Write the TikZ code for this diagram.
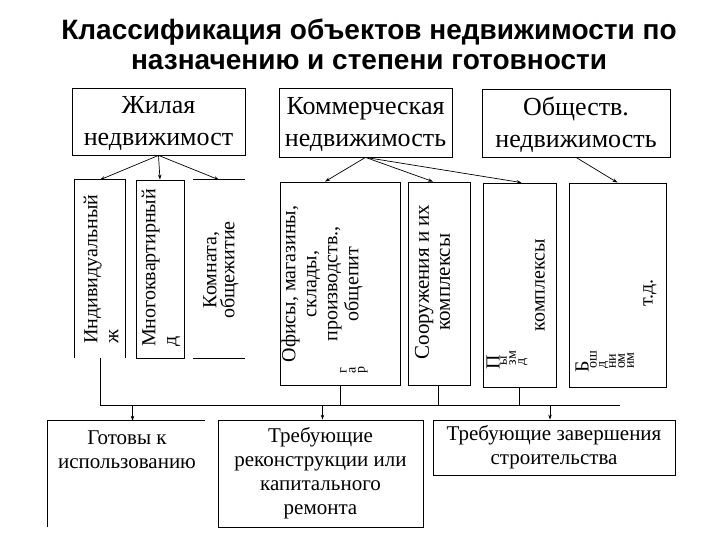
\documentclass[tikz,border=0pt]{standalone}
\usepackage{fontspec}
\setmainfont{Liberation Serif}
\newfontfamily\titlefont{Liberation Sans}
\usetikzlibrary{arrows.meta,calc}
\begin{document}
\begin{tikzpicture}[x=1pt,y=-1pt,
  box/.style={draw, line width=0.8pt, inner sep=0pt, align=center},
  openbox/.style={inner sep=0pt},
  arr/.style={-{Stealth[length=5pt,width=3.5pt]}, line width=0.7pt},
  ln/.style={line width=0.8pt},
  topfont/.style={font=\fontsize{26}{32}\selectfont},
  vtext/.style={font=\fontsize{20}{21}\selectfont, rotate=90, inner sep=0pt},
  small/.style={font=\fontsize{14}{9}\selectfont, rotate=90, inner sep=0pt},
  botfont/.style={font=\fontsize{21}{24}\selectfont}]
\useasboundingbox (0,0) rectangle (720,540);
\node[font=\titlefont\bfseries\fontsize{28}{30}\selectfont, align=center] (title) at (369,44) {Классификация объектов недвижимости по\\назначению и степени готовности};

% top boxes
\node[box, topfont, minimum width=173, minimum height=67] (zhil) at (158.5,121.5) {};
\node[topfont, align=center, inner sep=0pt] (zhilt) at (158.5,124) {Жилая\\недвижимост};
\node[box, topfont, minimum width=173, minimum height=69] (komm) at (365.5,122.5) {};
\node[topfont, align=center, inner sep=0pt] (kommt) at (365.5,125) {Коммерческая\\недвижимость};
\node[box, topfont, minimum width=188, minimum height=68] (obsh) at (576,123) {};
\node[topfont, align=center, inner sep=0pt] (obsht) at (576,125) {Обществ.\\недвижимость};

% vertical boxes
\node[openbox, minimum width=50, minimum height=178] (v1) at (100,269) {};
\node[box, minimum width=48, minimum height=178] (v2) at (160,269) {};
\node[openbox, minimum width=52, minimum height=178] (v3) at (219,269) {};
\node[box, minimum width=120, minimum height=203] (v4) at (340,283.5) {};
\node[box, minimum width=62, minimum height=203] (v5) at (439,283.5) {};
\node[box, minimum width=73, minimum height=204] (v6) at (519.5,285) {};
\node[box, minimum width=97, minimum height=204] (v7) at (617.5,285) {};

\draw[ln] (v1.south west) -- (v1.north west) -- (v1.north east) -- (v1.south east);
\draw[ln] (v3.north west) -- (v3.north east);
\draw[ln] (v3.south west) -- (v3.south east);

% vertical texts
\node[vtext, align=left] (t1) at (101,269) {Индивидуальный\\ж};
\node[vtext, align=left] (t2) at (161,268) {Многоквартирный\\д};
\node[vtext, align=center, font=\fontsize{20}{18}\selectfont] (t3) at (221,270) {Комната,\\общежитие};
\node[vtext, align=center] (t4) at (322,284) {Офисы, магазины,\\склады,\\производств.,\\общепит};
\node[small, align=left] (t4b) at (354,370) {г\\а\\р};
\node[vtext, align=center, font=\fontsize{21}{21}\selectfont] (t5) at (432.5,282) {Сооружения и их\\комплексы};
\node[vtext] (t6) at (540,285) {комплексы};
\node[vtext] (t6a) at (493,362) {П};
\node[small, align=left] (t6b) at (514,358) {ы\\зм\\д};
\node[vtext] (t7) at (650,293) {т.д.};
\node[vtext] (t7a) at (582,367) {Б};
\node[small, align=left] (t7b) at (612,360) {ош\\д\\ни\\ом\\им};

% top arrows
\draw[arr] (zhil.south) -- (v1.north);
\draw[arr] (zhil.south) -- (v2.north);
\draw[arr] (zhil.south) -- (v3.north);
\draw[arr] (komm.south) -- ($(v4.north)+(-15,0)$);
\draw[arr] (komm.south) -- ($(v5.north)+(-6,0)$);
\draw[arr] (komm.south) -- ($(v6.north)+(2,0)$);
\draw[arr] (obsh.south) -- (v7.north);

% bottom boxes
\node[openbox, botfont, minimum width=157, minimum height=106] (g1) at (126.5,474) {};
\node[botfont, align=center, inner sep=0pt] (g1t) at (127,450) {Готовы к\\использованию};
\node[box, botfont, minimum width=205, minimum height=107] (g2) at (320.5,473.5) {Требующие\\реконструкции или\\капитального\\ремонта};
\node[box, botfont, minimum width=242, minimum height=55] (g3) at (554,447.5) {Требующие завершения\\строительства};
\draw[ln] (g1.south west) -- (g1.north west) -- (g1.north east);

% bus
\coordinate (bus) at (101,405);
\coordinate (busend) at (620,405);
\draw[ln] (v1.south) -- (v1.south |- bus);
\draw[ln] (v4.south) -- (v4.south |- bus);
\draw[ln] ($(v5.south)+(-1,0)$) -- ($(v5.south |- bus)+(-1,0)$);
\draw[ln] (v6.south) -- (v6.south |- bus);
\draw[ln] (v1.south |- bus) -- (busend);
\draw[arr] ($(g1.north |- bus)+(6,0)$) -- ($(g1.north)+(6,0)$);
\draw[arr] ($(g2.north |- bus)+(2,0)$) -- ($(g2.north)+(2,0)$);
\draw[arr] ($(g3.north |- bus)+(-4,0)$) -- ($(g3.north)+(-4,0)$);
\end{tikzpicture}
\end{document}
